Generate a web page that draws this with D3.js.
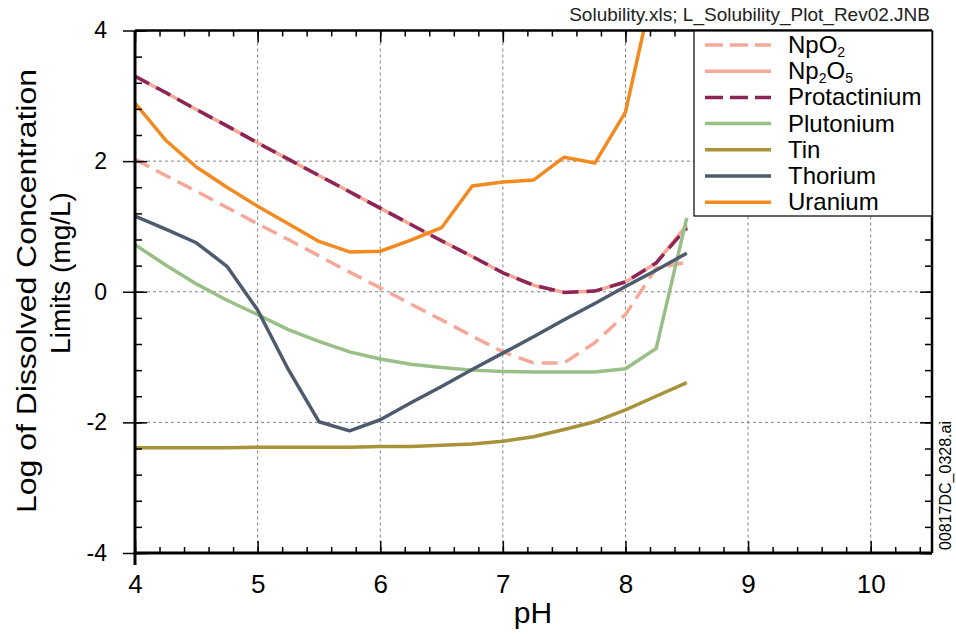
<!DOCTYPE html>
<html>
<head>
<meta charset="utf-8">
<script src="https://cdn.jsdelivr.net/npm/d3@7"></script>
<style>
  body { margin: 0; background: #fff; }
  svg { font-family: "Liberation Sans", Arial, sans-serif; }
</style>
</head>
<body>
<div id="canvas"></div>
<script>
const pH = [4, 4.25, 4.5, 4.75, 5, 5.25, 5.5, 5.75, 6, 6.25, 6.5, 6.75, 7, 7.25, 7.5, 7.75, 8, 8.25, 8.5]

const npO2 = [2.03, 1.78, 1.54, 1.29, 1.04, 0.80, 0.55, 0.30, 0.06, -0.19, -0.43, -0.68, -0.92, -1.09, -1.09, -0.78, -0.35, 0.36, 0.45]
const np2O5 = [3.30, 3.05, 2.79, 2.54, 2.28, 2.03, 1.78, 1.53, 1.28, 1.03, 0.78, 0.54, 0.29, 0.10, -0.01, 0.01, 0.15, 0.44, 1.02]
const protactinium = [3.30, 3.05, 2.79, 2.54, 2.28, 2.03, 1.78, 1.53, 1.28, 1.03, 0.78, 0.54, 0.29, 0.10, -0.01, 0.01, 0.15, 0.44, 0.98]
const plutonium = [0.72, 0.41, 0.12, -0.13, -0.35, -0.58, -0.76, -0.92, -1.03, -1.11, -1.16, -1.20, -1.22, -1.23, -1.23, -1.23, -1.18, -0.87, 1.13]
const tin = [-2.39, -2.39, -2.39, -2.39, -2.38, -2.38, -2.38, -2.38, -2.37, -2.37, -2.35, -2.33, -2.29, -2.22, -2.11, -1.99, -1.81, -1.60, -1.39]
const thorium = [1.16, 0.96, 0.75, 0.39, -0.28, -1.19, -1.99, -2.13, -1.96, -1.70, -1.45, -1.19, -0.94, -0.69, -0.43, -0.18, 0.08, 0.33, 0.59]
const uranium = [2.89, 2.32, 1.91, 1.60, 1.31, 1.04, 0.77, 0.61, 0.62, 0.79, 0.98, 1.62, 1.68, 1.71, 2.06, 1.97, 2.75, 4.85]

const xTicks = [4, 5, 6, 7, 8, 9, 10]
const yTicks = [-4, -2, 0, 2, 4]

const series = [
  { name: 'NpO', sub: '2', values: npO2, color: '#f6a898', dash: '16,8' },
  { name: 'Np', sub: '2', after: 'O', sub2: '5', values: np2O5, color: '#f6a898', dash: null },
  { name: 'Protactinium', values: protactinium, color: '#8c2558', dash: '16,8' },
  { name: 'Plutonium', values: plutonium, color: '#98bf86', dash: null },
  { name: 'Tin', values: tin, color: '#a8923a', dash: null },
  { name: 'Thorium', values: thorium, color: '#4e5a6e', dash: null },
  { name: 'Uranium', values: uranium, color: '#f38a1f', dash: null }
]

const width = 956
const height = 636
const plot = { left: 135, right: 932, top: 30.5, bottom: 553 }
const font = '"Liberation Sans", Arial, sans-serif'

const svg = d3.select('#canvas')
  .append('svg')
    .attr('width', width)
    .attr('height', height)

const x = d3.scaleLinear().domain([4, 10.5]).range([plot.left, plot.right])
const y = d3.scaleLinear().domain([-4, 4]).range([plot.bottom, plot.top])

// grid
svg.append('g')
  .selectAll('line')
  .data(xTicks.slice(1))
  .enter().append('line')
    .attr('x1', d => x(d)).attr('x2', d => x(d))
    .attr('y1', plot.top).attr('y2', plot.bottom)
    .attr('stroke', '#808080').attr('stroke-width', 1).attr('stroke-dasharray', '3,3')
svg.append('g')
  .selectAll('line')
  .data([-2, 0, 2])
  .enter().append('line')
    .attr('x1', plot.left).attr('x2', plot.right)
    .attr('y1', d => y(d)).attr('y2', d => y(d))
    .attr('stroke', '#808080').attr('stroke-width', 1).attr('stroke-dasharray', '3,3')

// lines
svg.append('clipPath').attr('id', 'clip')
  .append('rect')
    .attr('x', plot.left).attr('y', plot.top)
    .attr('width', plot.right - plot.left).attr('height', plot.bottom - plot.top)

const line = d3.line()
  .x((d, i) => x(pH[i]))
  .y(d => y(d))

svg.append('g')
  .attr('clip-path', 'url(#clip)')
  .selectAll('path')
  .data(series)
  .enter().append('path')
    .attr('d', d => line(d.values))
    .attr('fill', 'none')
    .attr('stroke', d => d.color)
    .attr('stroke-width', 3.5)
    .attr('stroke-linejoin', 'round')
    .attr('stroke-dasharray', d => d.dash)

// axes
const xMinor = d3.range(40, 106, 2).map(d => d / 10)
const yMinor = d3.range(-40, 41, 4).map(d => d / 10)
const plain = d => String(d)

function styleAxis(g) {
  g.select('.domain').remove()
  g.selectAll('line').attr('stroke', '#000').attr('stroke-width', 1.5)
}

svg.append('g')
  .attr('transform', `translate(0,${plot.bottom})`)
  .call(d3.axisBottom(x).tickValues(xMinor).tickSize(-6).tickFormat(''))
  .call(styleAxis)
svg.append('g')
  .attr('transform', `translate(0,${plot.bottom})`)
  .call(d3.axisBottom(x).tickValues(xTicks).tickSize(-12).tickPadding(22).tickFormat(plain))
  .call(styleAxis)
  .call(g => g.selectAll('text').attr('font-size', 26).attr('fill', '#000').attr('font-family', font))

svg.append('g')
  .attr('transform', `translate(0,${plot.top})`)
  .call(d3.axisTop(x).tickValues(xMinor).tickSize(-6).tickFormat(''))
  .call(styleAxis)
svg.append('g')
  .attr('transform', `translate(0,${plot.top})`)
  .call(d3.axisTop(x).tickValues(xTicks).tickSize(-12).tickFormat(''))
  .call(styleAxis)

svg.append('g')
  .attr('transform', `translate(${plot.left},0)`)
  .call(d3.axisLeft(y).tickValues(yMinor).tickSize(-7).tickFormat(''))
  .call(styleAxis)
svg.append('g')
  .attr('transform', `translate(${plot.left},0)`)
  .call(d3.axisLeft(y).tickValues(yTicks).tickSize(12).tickPadding(16).tickFormat(plain))
  .call(styleAxis)
  .call(g => g.selectAll('line').attr('x2', 12).attr('x1', -12))
  .call(g => g.selectAll('text').attr('font-size', 23).attr('fill', '#000').attr('font-family', font))

svg.append('g')
  .attr('transform', `translate(${plot.right},0)`)
  .call(d3.axisRight(y).tickValues(yMinor).tickSize(-7).tickFormat(''))
  .call(styleAxis)
svg.append('g')
  .attr('transform', `translate(${plot.right},0)`)
  .call(d3.axisRight(y).tickValues(yTicks).tickSize(-12).tickFormat(''))
  .call(styleAxis)

// frame
svg.append('line')
  .attr('x1', plot.left).attr('x2', plot.left).attr('y1', plot.top).attr('y2', plot.bottom + 12)
  .attr('stroke', '#000').attr('stroke-width', 3)
svg.append('line')
  .attr('x1', plot.left - 1.5).attr('x2', plot.right).attr('y1', plot.bottom).attr('y2', plot.bottom)
  .attr('stroke', '#000').attr('stroke-width', 3)
svg.append('line')
  .attr('x1', plot.left).attr('x2', plot.right).attr('y1', plot.top).attr('y2', plot.top)
  .attr('stroke', '#000').attr('stroke-width', 2.5)
svg.append('line')
  .attr('x1', plot.right).attr('x2', plot.right).attr('y1', plot.top).attr('y2', plot.bottom)
  .attr('stroke', '#000').attr('stroke-width', 2.5)

// legend
const legend = svg.append('g')
legend.append('rect')
  .attr('x', 694).attr('y', 31)
  .attr('width', plot.right - 694).attr('height', 185)
  .attr('fill', '#fff').attr('stroke', '#000').attr('stroke-width', 1.2)

const rows = legend.selectAll('g.row')
  .data(series)
  .enter().append('g')
    .attr('class', 'row')
    .attr('transform', (d, i) => `translate(0,${45 + i * 26.2})`)

rows.append('line')
  .attr('x1', 705).attr('x2', 771)
  .attr('stroke', d => d.color)
  .attr('stroke-width', 3.5)
  .attr('stroke-dasharray', d => d.dash ? '18,7' : null)

// main label text, subscripts drawn as small separate texts
rows.each(function(d) {
  const row = d3.select(this)
  const t = row.append('text')
    .attr('x', 788).attr('y', 8)
    .attr('font-size', 24)
    .attr('fill', '#000')
    .text(d.name)
  if (d.sub) {
    let cx = 788 + t.node().getComputedTextLength()
    const s = row.append('text')
      .attr('x', cx).attr('y', 12)
      .attr('font-size', 14)
      .text(d.sub)
    cx += s.node().getComputedTextLength()
    if (d.after) {
      const a = row.append('text')
        .attr('x', cx).attr('y', 8)
        .attr('font-size', 24)
        .text(d.after)
      cx += a.node().getComputedTextLength()
      row.append('text')
        .attr('x', cx).attr('y', 12)
        .attr('font-size', 14)
        .text(d.sub2)
    }
  }
})

// labels
svg.append('text')
  .attr('x', 533).attr('y', 623)
  .attr('text-anchor', 'middle')
  .attr('font-size', 30)
  .text('pH')

svg.append('text')
  .attr('transform', 'translate(36,291) rotate(-90)')
  .attr('text-anchor', 'middle')
  .attr('font-size', 27)
  .attr('textLength', 444)
  .attr('lengthAdjust', 'spacingAndGlyphs')
  .text('Log of Dissolved Concentration')
svg.append('text')
  .attr('transform', 'translate(70,273) rotate(-90)')
  .attr('text-anchor', 'middle')
  .attr('font-size', 28)
  .text('Limits (mg/L)')

svg.append('text')
  .attr('x', 930).attr('y', 21)
  .attr('text-anchor', 'end')
  .attr('font-size', 19)
  .attr('fill', '#222')
  .text('Solubility.xls; L_Solubility_Plot_Rev02.JNB')

svg.append('text')
  .attr('transform', 'translate(951,550) rotate(-90)')
  .attr('font-size', 16)
  .text('00817DC_0328.ai')
</script>
</body>
</html>
